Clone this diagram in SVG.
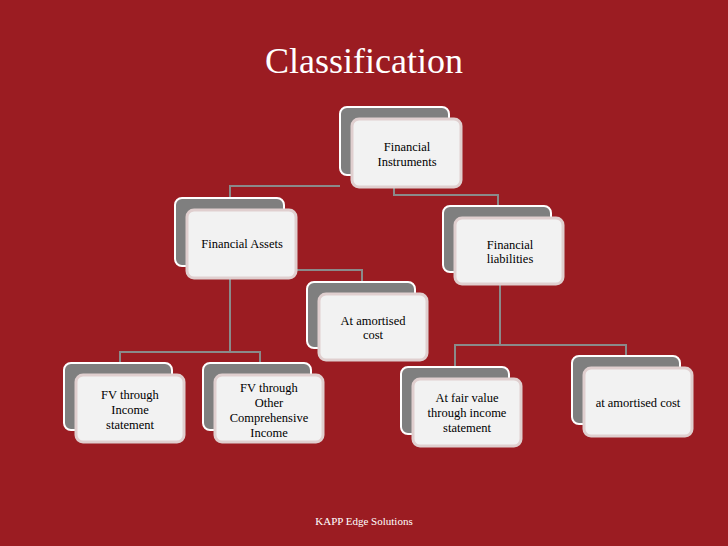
<svg xmlns="http://www.w3.org/2000/svg" width="728" height="546" viewBox="0 0 728 546">
<style>
.b{fill:#7f7f7f;stroke:#fff;stroke-width:2}
.f{fill:#f2f2f2;stroke:#e0cfcf;stroke-width:3}
.t{font-family:"Liberation Serif",serif;font-size:12.5px;fill:#000;text-anchor:middle}
.c{fill:none;stroke:#8a8a8a;stroke-width:2}
</style>
<rect width="728" height="546" fill="#9b1c22"/>
<text x="364" y="73" font-family="Liberation Serif,serif" font-size="36" fill="#fff" text-anchor="middle">Classification</text>
<g id="connectors">
<path class="c" d="M340 186H230V198"/>
<path class="c" d="M394 187V195H498V206"/>
<path class="c" d="M230 278V352M120 363V352H260V363"/>
<path class="c" d="M296 270H362V282"/>
<path class="c" d="M500 284V345M455 367V345H626V356"/>
</g>
<g id="n1"><rect class="b" x="340" y="107" width="109" height="68" rx="7"/><rect class="f" x="352" y="119" width="109" height="68" rx="7"/><text class="t" x="407" y="151">Financial</text><text class="t" x="407" y="166">Instruments</text></g>
<g id="n2"><rect class="b" x="175" y="198" width="109" height="68" rx="7"/><rect class="f" x="187" y="210" width="109" height="68" rx="7"/><text class="t" x="242" y="248">Financial Assets</text></g>
<g id="n3"><rect class="b" x="443" y="206" width="108" height="66" rx="7"/><rect class="f" x="455" y="218" width="108" height="66" rx="7"/><text class="t" x="510" y="249">Financial</text><text class="t" x="510" y="263">liabilities</text></g>
<g id="n4"><rect class="b" x="307" y="282" width="108" height="66" rx="7"/><rect class="f" x="319" y="294" width="108" height="66" rx="7"/><text class="t" x="373" y="325">At amortised</text><text class="t" x="373" y="339">cost</text></g>
<g id="n5"><rect class="b" x="64" y="363" width="108" height="67" rx="7"/><rect class="f" x="76" y="375" width="108" height="67" rx="7"/><text class="t" x="130" y="399">FV through</text><text class="t" x="130" y="414">Income</text><text class="t" x="130" y="429">statement</text></g>
<g id="n6"><rect class="b" x="203" y="363" width="108" height="67" rx="7"/><rect class="f" x="215" y="375" width="108" height="67" rx="7"/><text class="t" x="269" y="392">FV through</text><text class="t" x="269" y="407">Other</text><text class="t" x="269" y="422">Comprehensive</text><text class="t" x="269" y="437">Income</text></g>
<g id="n7"><rect class="b" x="401" y="367" width="108" height="67" rx="7"/><rect class="f" x="413" y="379" width="108" height="67" rx="7"/><text class="t" x="467" y="402">At fair value</text><text class="t" x="467" y="417">through income</text><text class="t" x="467" y="432">statement</text></g>
<g id="n8"><rect class="b" x="572" y="356" width="108" height="68" rx="7"/><rect class="f" x="584" y="368" width="108" height="68" rx="7"/><text class="t" x="638" y="407">at amortised cost</text></g>
<text x="364" y="525" font-family="Liberation Serif,serif" font-size="11" fill="#fff" text-anchor="middle">KAPP Edge Solutions</text>
</svg>
